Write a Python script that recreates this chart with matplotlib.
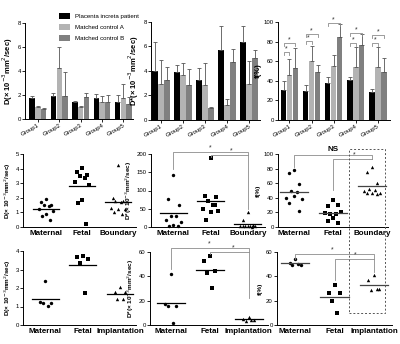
import numpy as np
import matplotlib
matplotlib.use("Agg")
import matplotlib.pyplot as plt
from matplotlib.patches import Rectangle

plt.rcParams['font.family'] = ['Liberation Sans', 'DejaVu Sans']

# ---- top row: bar charts (mean, error) ----
groups = ['Group1', 'Group2', 'Group3', 'Group4', 'Group5']
series = ['Placenta increta patient', 'Matched control A', 'Matched control B']

d_mean = [[1.75, 1.95, 1.40, 1.75, 1.38],
          [1.00, 4.25, 1.03, 1.45, 1.72],
          [0.85, 1.95, 1.87, 1.45, 1.22]]
d_err = [[0.20, 0.20, 0.08, 0.36, 0.65],
         [0.12, 1.75, 0.06, 0.50, 1.20],
         [0.08, 2.00, 0.30, 0.55, 0.60]]

ds_mean = [[4.0, 3.9, 3.3, 5.75, 6.4],
           [2.96, 3.7, 2.88, 1.23, 2.93],
           [3.29, 2.88, 1.0, 4.71, 5.07]]
ds_err = [[2.4, 0.55, 0.95, 1.9, 1.3],
          [1.9, 0.95, 1.8, 0.5, 1.85],
          [1.0, 1.25, 0.08, 1.1, 0.65]]

f_mean = [[30.8, 29.8, 37.7, 41.0, 29.0],
          [46.0, 60.6, 54.8, 53.8, 53.8],
          [53.0, 48.6, 84.6, 77.0, 48.6]]
f_err = [[9.2, 6.2, 6.1, 2.5, 2.5],
         [16.0, 15.4, 11.2, 20.5, 20.5],
         [20.6, 7.9, 13.0, 11.0, 14.8]]

# brackets on f panel: (group, lower bracket y or None, upper bracket y)
f_sig = [(0, 69, 79), (1, 80.5, 88), (2, None, 99), (3, 79, 89), (4, 79, 87)]

# ---- middle row: scatter, placenta increta patient ----
cats_mid = ['Maternal', 'Fetal', 'Boundary']
mid_d = [[1.91, 1.68, 1.48, 1.48, 1.41, 1.23, 1.07, 0.91, 0.77, 0.45],
         [4.02, 3.80, 3.57, 3.50, 3.34, 3.11, 2.89, 1.86, 1.64, 0.20],
         [4.25, 1.98, 1.75, 1.75, 1.70, 1.30, 1.25, 1.20, 1.05, 0.90]]
mid_ds = [[143, 76, 61, 31, 29, 18, 15, 6, 4, 2],
          [188, 84, 82, 72, 61, 49, 43, 40, 20, 60],
          [40, 20, 5, 4, 3, 3, 2, 2, 2, 1]]
mid_f = [[78, 74, 59, 50, 48, 40, 38, 43, 33, 22],
         [37, 29, 30, 18, 18, 19, 20, 12, 8, 5],
         [82, 75, 60, 52, 51, 50, 47, 47, 46, 45]]

# ---- bottom row: scatter, implantation ----
cats_bot = ['Maternal', 'Fetal', 'Implantation']
bot_d = [[2.40, 1.26, 1.20, 1.17, 1.03],
         [3.75, 3.70, 3.57, 3.33, 1.75],
         [2.04, 1.77, 1.77, 1.39, 1.39]]
bot_ds = [[42, 17, 16, 16, 1.4],
          [57, 53, 44, 43, 30.5],
          [6.8, 4.6, 4.1, 3.5, 4.0]]
bot_f = [[54, 51, 49.6, 49, 50.4],
         [32.7, 26.4, 25.9, 19.6, 10],
         [41, 36.8, 30, 29, 29.4]]

ylab_d = 'D(\u00d7 10$^{-3}$mm$^{2}$/sec)'
ylab_ds = 'D*(\u00d7 10$^{-3}$mm$^{2}$/sec)'
ylab_f = 'f(%)'

W, H = 400, 344
fig = plt.figure(figsize=(4, 3.44), dpi=100)


def axes_px(l, r, t, b):
    return fig.add_axes([l / W, 1 - b / H, (r - l) / W, (b - t) / H])


def style(ax, ticksize=4.3):
    for s in ['top', 'right']:
        ax.spines[s].set_visible(False)
    for s in ['left', 'bottom']:
        ax.spines[s].set_linewidth(0.7)
    ax.tick_params(labelsize=ticksize, width=0.6, length=2, pad=1)


def bracket(ax, x1, x2, y, h1, h2, color='#8c8c8c'):
    ax.plot([x1, x1, x2, x2], [h1, y, y, h2], color=color, lw=0.6, clip_on=False)


def star(ax, x, y, size=5):
    ax.text(x, y, '*', ha='center', va='bottom', fontsize=size, color='#333333')


colors = ['black', '#b3b3b3', '#808080']
offs = [-0.27, 0, 0.27]


def bars(ax, means, errs, ylim, yticks, ylabel, xlim):
    x = np.arange(len(groups))
    for i in range(3):
        ax.bar(x + offs[i], means[i], 0.25, color=colors[i], label=series[i],
               yerr=[np.zeros(len(groups)), errs[i]],
               error_kw=dict(ecolor='#555555', elinewidth=0.6, capsize=1.5, capthick=0.6))
    ax.set_xlim(*xlim)
    ax.set_ylim(*ylim)
    ax.set_yticks(yticks)
    ax.set_xticks(x)
    ax.set_xticklabels(groups, rotation=30, fontsize=4.6, ha='right', rotation_mode='anchor')
    ax.set_ylabel(ylabel, fontsize=5.5, fontweight='bold', labelpad=1.5)
    style(ax)


ax1 = axes_px(25, 133, 23, 119)
bars(ax1, d_mean, d_err, (0, 8), [0, 2, 4, 6, 8], ylab_d, (-0.6, 4.45))
ax2 = axes_px(151, 260, 22, 120)
bars(ax2, ds_mean, ds_err, (0, 8), [0, 2, 4, 6, 8], ylab_ds, (-0.45, 4.5))
ax3 = axes_px(278, 390, 22, 120)
bars(ax3, f_mean, f_err, (0, 100), [0, 20, 40, 60, 80, 100], ylab_f, (-0.52, 4.55))
for g, lo, hi in f_sig:
    if lo is not None:
        bracket(ax3, g - 0.27, g, lo, lo - 3, lo - 3)
        star(ax3, g - 0.13, lo - 0.5)
    bracket(ax3, g - 0.27, g + 0.27, hi, hi - 3, hi - 3)
    star(ax3, g, hi - 0.5)

h, l = ax1.get_legend_handles_labels()
fig.legend(h, l, loc='upper left', bbox_to_anchor=(57 / W, 1 - 11 / H), frameon=False,
           fontsize=4.4, handlelength=1.7, handleheight=1.1, labelspacing=0.8,
           handletextpad=0.8, borderaxespad=0)

jit = [0.0, -0.14, 0.14, -0.07, 0.07, -0.2, 0.2, 0.0, -0.12, 0.12]
markers = ['o', 's', '^']


def scatter_panel(ax, data, cats, ylim, yticks, ylabel, xlim, mcolor='black'):
    for i, vals in enumerate(data):
        xs = [i + jit[k % len(jit)] for k in range(len(vals))]
        ax.scatter(xs, vals, marker=markers[i], s=6, color='black', linewidths=0, clip_on=False)
        m = np.mean(vals)
        ax.plot([i - 0.36, i + 0.36], [m, m], color=mcolor, lw=0.9)
    ax.set_xlim(*xlim)
    ax.set_ylim(*ylim)
    ax.set_yticks(yticks)
    ax.set_xticks(range(3))
    ax.set_xticklabels(cats, fontsize=5.8, fontweight='bold')
    ax.set_ylabel(ylabel, fontsize=4.6, fontweight='bold', labelpad=2)
    style(ax)
    ax.tick_params(axis='x', length=0, labelsize=5.8, pad=2)


ax4 = axes_px(23, 136, 154, 227)
scatter_panel(ax4, mid_d, cats_mid, (0, 5), range(6), ylab_d, (-0.64, 2.5))
ax5 = axes_px(151, 265, 154, 227)
scatter_panel(ax5, mid_ds, cats_mid, (0, 200), [0, 50, 100, 150, 200], ylab_ds, (-0.6, 2.46))
bracket(ax5, 0, 2, 205, 160, 48)
bracket(ax5, 1, 2, 196, 191, 196)
star(ax5, 1, 207)
star(ax5, 1.55, 198)
ax6 = axes_px(278, 388, 154, 227)
scatter_panel(ax6, mid_f, cats_mid, (0, 100), [0, 20, 40, 60, 80, 100], ylab_f, (-0.41, 2.41),
              mcolor='#444444')
bracket(ax6, 0, 2, 98.6, 82, 93)
bracket(ax6, 1, 2, 93, 51, 93)
ax6.text(1, 101, 'NS', ha='center', va='bottom', fontsize=5.8, fontweight='bold')
star(ax6, 1.55, 93.5)

ax7 = axes_px(23, 136, 251, 325)
scatter_panel(ax7, bot_d, cats_bot, (0, 4), range(5), ylab_d, (-0.6, 2.43))
ax8 = axes_px(150, 268, 252, 325)
scatter_panel(ax8, bot_ds, cats_bot, (0, 60), [0, 20, 40, 60], ylab_ds, (-0.53, 2.5))
bracket(ax8, 0, 2, 63.5, 46, 22)
bracket(ax8, 1, 2, 60, 58.5, 60)
star(ax8, 1, 64)
star(ax8, 1.6, 60.5)
ax9 = axes_px(277, 392, 252, 325)
scatter_panel(ax9, bot_f, cats_bot, (0, 60), [0, 20, 40, 60], ylab_f, (-0.46, 2.46),
              mcolor='#444444')
bracket(ax9, 0, 2, 58.6, 54.5, 43.6)
bracket(ax9, 1, 2, 54.5, 36.8, 54.5)
star(ax9, 0.95, 59)
star(ax9, 1.52, 55)

# dashed box around the boundary / implantation columns
fig.patches.append(Rectangle((349 / W, 1 - 313 / H), 36 / W, 164 / H, transform=fig.transFigure,
                             fill=False, ls=(0, (2, 2)), lw=0.7, ec='#555555'))

fig.savefig('out.png', dpi=100)
